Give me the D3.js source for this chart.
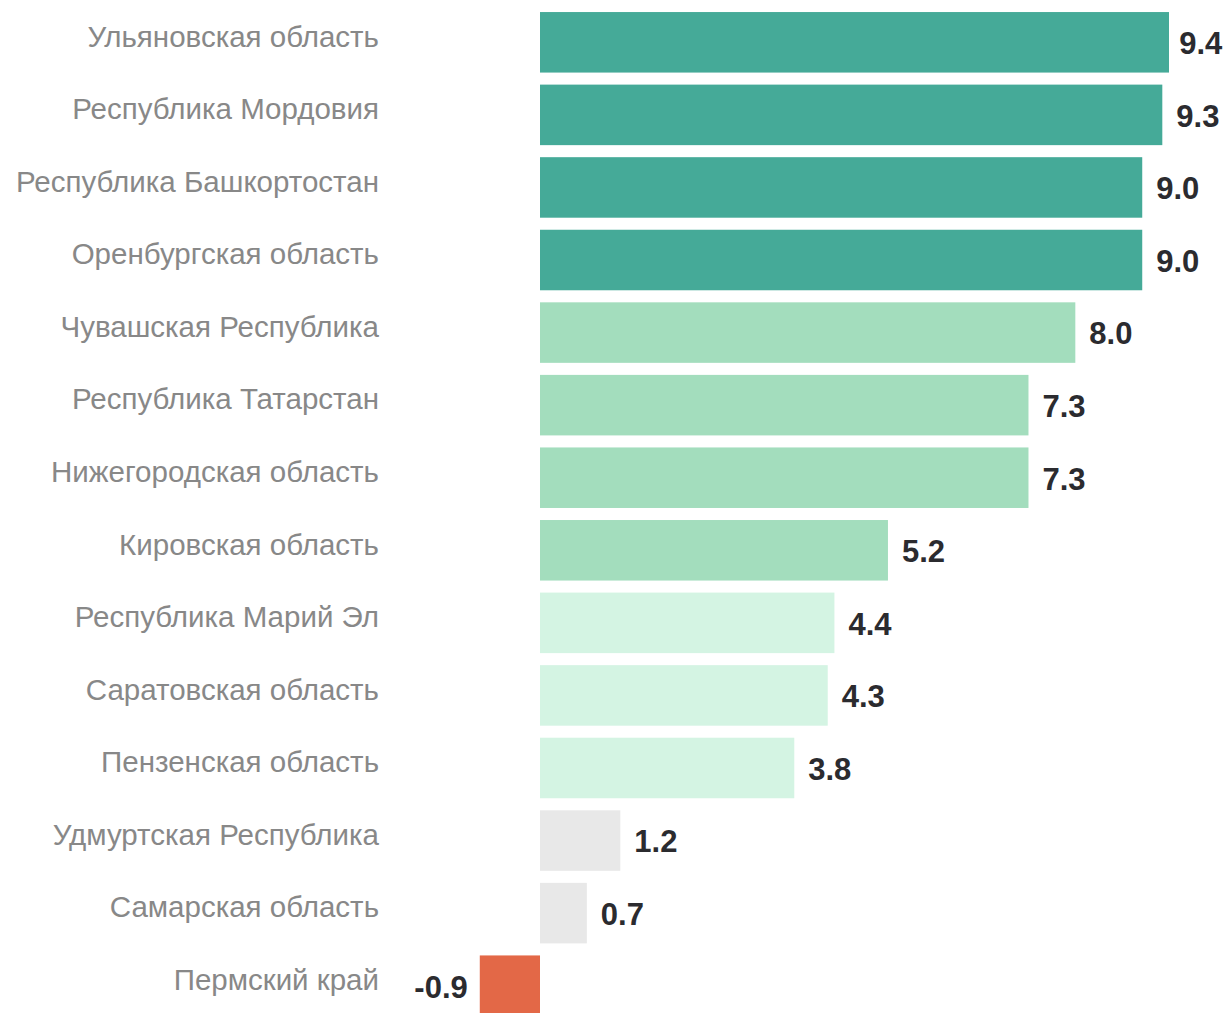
<!DOCTYPE html>
<html>
<head>
<meta charset="utf-8">
<script src="https://cdn.jsdelivr.net/npm/d3@7"></script>
<style>
  body { margin: 0; background: #fff; }
  text { font-family: Arial, "Liberation Sans", sans-serif; }
</style>
</head>
<body>
<div id="chart"></div>
<script>
// regions and growth values, top to bottom
var regions = [
  "Ульяновская область",
  "Республика Мордовия",
  "Республика Башкортостан",
  "Оренбургская область",
  "Чувашская Республика",
  "Республика Татарстан",
  "Нижегородская область",
  "Кировская область",
  "Республика Марий Эл",
  "Саратовская область",
  "Пензенская область",
  "Удмуртская Республика",
  "Самарская область",
  "Пермский край"
];
var values = [9.4, 9.3, 9.0, 9.0, 8.0, 7.3, 7.3, 5.2, 4.4, 4.3, 3.8, 1.2, 0.7, -0.9];

var colorBreaks = [0, 3, 5, 9];
var colorSteps = ["#e36847", "#e8e8e8", "#d4f4e3", "#a3ddbd", "#45aa98"];

var width = 1230, height = 1013;

var data = regions.map(function(r, i) { return {region: r, value: values[i]}; });

var svg = d3.select("#chart")
  .append("svg")
  .attr("width", width)
  .attr("height", height);

var x = d3.scaleLinear()
  .domain([0, d3.max(values)])
  .range([540, 1169]);

var y = d3.scaleBand()
  .domain(regions)
  .range([0, 1028])
  .paddingInner(0.166)
  .paddingOuter(0.166);

var color = d3.scaleThreshold()
  .domain(colorBreaks)
  .range(colorSteps);

// plain hyphen for the minus, as in the original
var fmt = function(v) { return d3.format(".1f")(v).replace("\u2212", "-"); };

// bars
svg.append("g")
  .selectAll("rect")
  .data(data)
  .enter()
  .append("rect")
  .attr("x", function(d) { return Math.min(x(0), x(d.value)); })
  .attr("y", function(d) { return y(d.region); })
  .attr("width", function(d) { return Math.abs(x(d.value) - x(0)); })
  .attr("height", y.bandwidth())
  .attr("fill", function(d) { return color(d.value); });

// category labels
svg.append("g")
  .selectAll("text")
  .data(data)
  .enter()
  .append("text")
  .attr("x", 379)
  .attr("y", function(d) { return y(d.region) + y.bandwidth() / 2 - 6; })
  .attr("dy", "0.35em")
  .attr("text-anchor", "end")
  .attr("fill", "#888888")
  .style("font-size", "29.5px")
  .text(function(d) { return d.region; });

// value labels
svg.append("g")
  .selectAll("text")
  .data(data)
  .enter()
  .append("text")
  .attr("y", function(d) { return y(d.region) + y.bandwidth() / 2 + 1; })
  .attr("dy", "0.35em")
  .attr("fill", "#2b2b2f")
  .style("font-size", "31px")
  .style("font-weight", "bold")
  .attr("text-anchor", function(d) { return d.value < 0 ? "end" : "start"; })
  .attr("x", function(d) { return d.value < 0 ? x(d.value) - 12 : x(d.value) + 14; })
  .text(function(d) { return fmt(d.value); })
  .each(function() {
    // keep the widest label inside the page
    var bb = this.getBBox();
    if (bb.x + bb.width > width - 7) {
      d3.select(this).attr("x", width - 7 - bb.width);
    }
  });
</script>
</body>
</html>
